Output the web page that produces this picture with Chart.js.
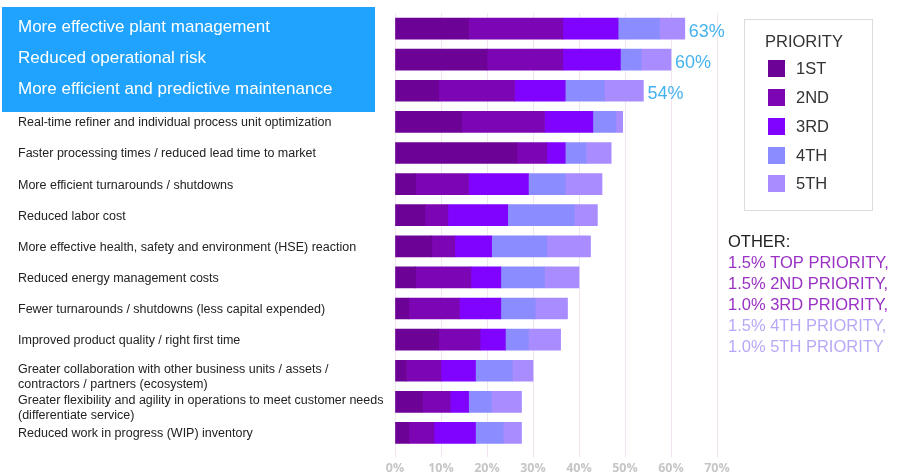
<!DOCTYPE html>
<html>
<head>
<meta charset="utf-8">
<script src="https://cdn.jsdelivr.net/npm/chart.js@4"></script>
<style>
  html, body { margin: 0; padding: 0; background: #ffffff; }
  #wrap { width: 899px; height: 475px; position: relative; }
</style>
</head>
<body>
<div id="wrap"><canvas id="chart" width="899" height="475"></canvas></div>
<script>
// Benefits of digital transformation, ranked by priority (percent of respondents)
const categories = [
  'More effective plant management',
  'Reduced operational risk',
  'More efficient and predictive maintenance',
  'Real-time refiner and individual process unit optimization',
  'Faster processing times / reduced lead time to market',
  'More efficient turnarounds / shutdowns',
  'Reduced labor cost',
  'More effective health, safety and environment (HSE) reaction',
  'Reduced energy management costs',
  'Fewer turnarounds / shutdowns (less capital expended)',
  'Improved product quality / right first time',
  ['Greater collaboration with other business units / assets /', 'contractors / partners (ecosystem)'],
  ['Greater flexibility and agility in operations to meet customer needs', '(differentiate service)'],
  'Reduced work in progress (WIP) inventory'
];

const priorityNames = ['1ST', '2ND', '3RD', '4TH', '5TH'];

const first  = [16,   20,   9.5,  14.5, 26.5, 4.5,  6.5, 8,    4.5, 3,   9.5, 2.5, 6,   3];
const second = [20.5, 16.5, 16.5, 18,   6.5,  11.5, 5,   5,    12,  11,  9,   7.5, 6,   5.5];
const third  = [12,   12.5, 11,   10.5, 4,    13,   13,  8,    6.5, 9,   5.5, 7.5, 4,   9];
const fourth = [9,    4.5,  8.5,  5,    4.5,  8,    14.5, 12,  9.5, 7.5, 5,   8,   5,   6];
const fifth  = [5.5,  6.5,  8.5,  1.5,  5.5,  8,    5,   9.5,  7.5, 7,   7,   4.5, 6.5, 4];

// Totals called out next to the three highlighted benefits
const highlightTotals = ['63%', '60%', '54%'];
const highlightCount = 3;

const xTickLabels = ['0%', '10%', '20%', '30%', '40%', '50%', '60%', '70%'];

const otherTitle = 'OTHER:';
const otherLines = [
  '1.5% TOP PRIORITY,',
  '1.5% 2ND PRIORITY,',
  '1.0% 3RD PRIORITY,',
  '1.5% 4TH PRIORITY,',
  '1.0% 5TH PRIORITY'
];

const colors = ['#6d0396', '#7c06b4', '#8003ff', '#8b8cff', '#a98cff'];
const otherColors = ['#9a31c4', '#9a31c4', '#9a31c4', '#b9a7f7', '#b9a7f7'];

const seriesValues = [first, second, third, fourth, fifth];

const labelFont = '"Liberation Sans", Arial, sans-serif';

// Blue band behind the top three benefits plus all category labels
const categoryLabels = {
  id: 'categoryLabels',
  beforeDatasetsDraw(chart) {
    const ctx = chart.ctx;
    const y = chart.scales.y;
    ctx.save();
    ctx.fillStyle = '#1fa3ff';
    ctx.fillRect(2, 7, 373, 105);
    ctx.textBaseline = 'middle';
    ctx.textAlign = 'left';
    categories.forEach((label, i) => {
      const cy = y.getPixelForValue(i);
      if (i < highlightCount) {
        ctx.font = '17px ' + labelFont;
        ctx.fillStyle = '#ffffff';
        ctx.fillText(label, 18, cy - 1);
      } else {
        ctx.font = '12.5px ' + labelFont;
        ctx.fillStyle = '#222222';
        if (Array.isArray(label)) {
          ctx.fillText(label[0], 18, cy - 1);
          ctx.fillText(label[1], 18, cy + 14);
        } else {
          ctx.fillText(label, 18, cy + 1);
        }
      }
    });
    ctx.restore();
  }
};

// Totals at the end of the highlighted bars, legend box and "other" notes
const annotations = {
  id: 'annotations',
  afterDatasetsDraw(chart) {
    const ctx = chart.ctx;
    const x = chart.scales.x;
    const y = chart.scales.y;
    ctx.save();
    ctx.textBaseline = 'middle';
    ctx.textAlign = 'left';
    ctx.font = '18px ' + labelFont;
    ctx.fillStyle = '#45b2f0';
    for (let i = 0; i < highlightCount; i++) {
      let total = 0;
      seriesValues.forEach(s => { total += s[i]; });
      ctx.fillText(highlightTotals[i], x.getPixelForValue(total) + 4, y.getPixelForValue(i) + 3);
    }

    // Legend
    ctx.strokeStyle = '#dcdcdc';
    ctx.lineWidth = 1;
    ctx.strokeRect(744.5, 19.5, 128, 191);
    ctx.fillStyle = '#333333';
    ctx.font = '16.5px ' + labelFont;
    ctx.fillText('PRIORITY', 765, 42);
    const rowY = [68, 97, 126, 155, 183];
    chart.data.datasets.forEach((ds, i) => {
      ctx.fillStyle = ds.backgroundColor;
      ctx.fillRect(768, rowY[i] - 8, 17, 17);
      ctx.fillStyle = '#333333';
      ctx.fillText(ds.label, 796, rowY[i] + 1);
    });

    // Other responses
    ctx.font = '16.5px ' + labelFont;
    ctx.fillStyle = '#222222';
    ctx.fillText(otherTitle, 728, 242);
    otherLines.forEach((line, i) => {
      ctx.fillStyle = otherColors[i];
      ctx.fillText(line, 728, 263 + i * 21);
    });
    ctx.restore();
  }
};

new Chart(document.getElementById('chart'), {
  type: 'bar',
  data: {
    labels: categories,
    datasets: seriesValues.map((vals, i) => ({
      label: priorityNames[i],
      data: vals,
      backgroundColor: colors[i],
      borderWidth: 0,
      barThickness: 21
    }))
  },
  options: {
    indexAxis: 'y',
    responsive: false,
    animation: false,
    events: [],
    layout: { padding: { left: 395, right: 182, top: 13, bottom: -5 } },
    plugins: {
      legend: { display: false },
      tooltip: { enabled: false },
      title: { display: false }
    },
    scales: {
      x: {
        stacked: true,
        min: 0,
        max: 70,
        border: { display: false },
        grid: { color: '#f1e5f1', lineWidth: 1, tickLength: 9, drawTicks: true },
        ticks: {
          stepSize: 10,
          padding: 5,
          color: '#c6c6c6',
          font: { family: '"Open Sans", sans-serif', size: 12.5, weight: '700', lineHeight: 1 },
          callback: (v, i) => xTickLabels[i]
        }
      },
      y: {
        stacked: true,
        display: false,
        grid: { display: false }
      }
    }
  },
  plugins: [categoryLabels, annotations]
});
</script>
</body>
</html>
